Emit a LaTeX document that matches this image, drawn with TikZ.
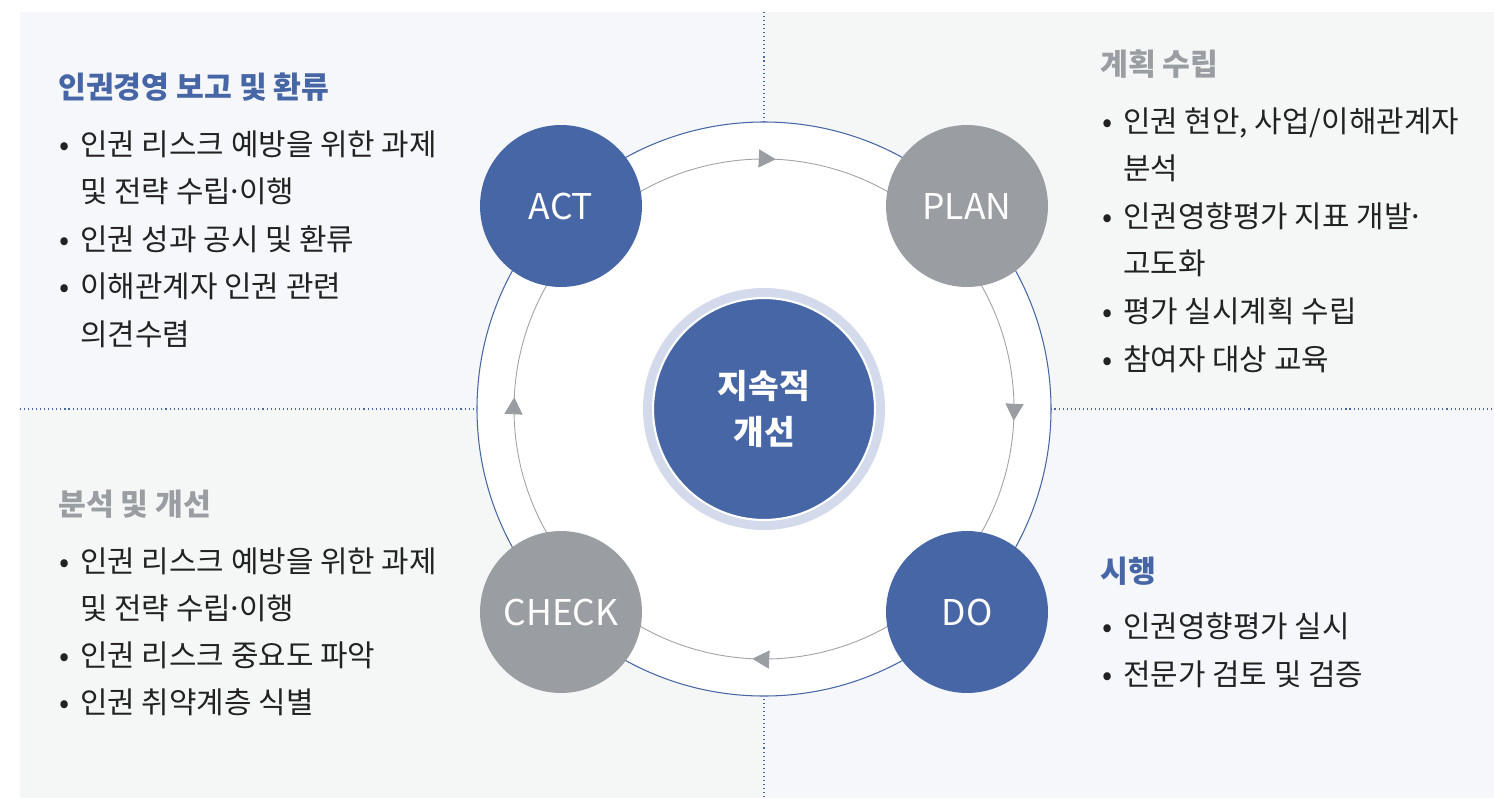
\documentclass[tikz,border=0pt]{standalone}
\usepackage{fontspec}
\setmainfont{Noto Sans CJK KR}
\usetikzlibrary{arrows.meta,decorations.markings}

\definecolor{pblue}{RGB}{71,102,166}
\definecolor{pgray}{RGB}{154,158,162}
\definecolor{ringc}{RGB}{211,218,235}
\definecolor{arcc}{RGB}{160,163,166}
\definecolor{ink}{RGB}{34,34,34}
\definecolor{bgb}{RGB}{245,247,251}
\definecolor{bgg}{RGB}{245,247,247}

\newcommand\itm{\makebox[0.42cm][l]{•}}
\newcommand\ind{\hspace{0.42cm}}
\newcommand\mdot{\makebox[0.28em]{·}}

\tikzset{
  txt/.style={anchor=base west, inner sep=0pt, text=ink,
    font=\fontsize{17}{20}\selectfont},
  head/.style={txt, font=\fontsize{17.2}{20}\selectfont\bfseries},
  stage/.style={circle, minimum size=3.24cm, inner sep=0pt, text=white,
    font=\fontsize{20.2}{24}\selectfont},
  divider/.style={pblue, line width=0.6pt, dash pattern=on 0.6pt off 1.7pt},
  cyc/.style={arcc, line width=0.5pt,
    decoration={markings, mark=at position 0.53 with
      {\arrow[pgray]{Triangle[length=0.34cm,width=0.36cm]}}},
    postaction=decorate}
}

\begin{document}
\begin{tikzpicture}[x=0.02cm, y=-0.02cm]
\useasboundingbox (0,0) rectangle (1494,798);

% Panels
\fill[bgb] (20,12) rectangle (764,409);
\fill[bgg] (764,12) rectangle (1494,409);
\fill[bgg] (20,409) rectangle (764,798);
\fill[bgb] (764,409) rectangle (1494,798);
\draw[divider] (764,12) -- (764,798);
\draw[divider] (20,409) -- (1494,409);

% Cycle
\coordinate (ctr) at (764,409);
\draw[pblue, line width=0.6pt, fill=white] (ctr) circle[radius=287];
\foreach \a in {225,315,45,135}
  \draw[cyc] (ctr) ++(\a:250) arc[start angle=\a, end angle=\a+90, radius=250];

\node[stage, fill=pblue] (act) at (561,206) {ACT};
\node[stage, fill=pgray] (plan) at (967,206) {PLAN};
\node[stage, fill=pblue] (do) at (967,612) {DO};
\node[stage, fill=pgray] (check) at (561,612) {CHECK};

% Centre
\node[circle, fill=ringc, minimum size=4.84cm, inner sep=0pt] (ring) at (ctr) {};
\node[circle, fill=pblue, draw=white, line width=1.2pt, minimum size=4.44cm,
  inner sep=0pt, text=white, align=center,
  font=\fontsize{19}{26}\selectfont\bfseries] (core) at (ctr) {지속적\\개선};

% ACT text
\node[head, text=pblue] (act-h) at (58,98) {인권경영 보고 및 환류};
\foreach \ln [count=\i] in {{\itm 인권 리스크 예방을 위한 과제}, {\ind 및 전략 수립\mdot 이행},
    {\itm 인권 성과 공시 및 환류}, {\itm 이해관계자 인권 관련}, {\ind 의견수렴}}
  \node[txt] (act-\i) at (59,{155+47.5*(\i-1)}) {\ln};

% PLAN text
\node[head, text=pgray] (plan-h) at (1100,75) {계획 수립};
\foreach \ln [count=\i] in {{\itm 인권 현안, 사업/이해관계자}, {\ind 분석},
    {\itm 인권영향평가 지표 개발\mdot}, {\ind 고도화}, {\itm 평가 실시계획 수립},
    {\itm 참여자 대상 교육}}
  \node[txt] (plan-\i) at (1102,{132+47.6*(\i-1)}) {\ln};

% CHECK text
\node[head, text=pgray] (check-h) at (58,515) {분석 및 개선};
\foreach \ln [count=\i] in {{\itm 인권 리스크 예방을 위한 과제}, {\ind 및 전략 수립\mdot 이행},
    {\itm 인권 리스크 중요도 파악}, {\itm 인권 취약계층 식별}}
  \node[txt] (check-\i) at (59,{572+47*(\i-1)}) {\ln};

% DO text
\node[head, text=pblue] (do-h) at (1100,582) {시행};
\foreach \ln [count=\i] in {{\itm 인권영향평가 실시}, {\itm 전문가 검토 및 검증}}
  \node[txt] (do-\i) at (1102,{637+48*(\i-1)}) {\ln};

\end{tikzpicture}
\end{document}
